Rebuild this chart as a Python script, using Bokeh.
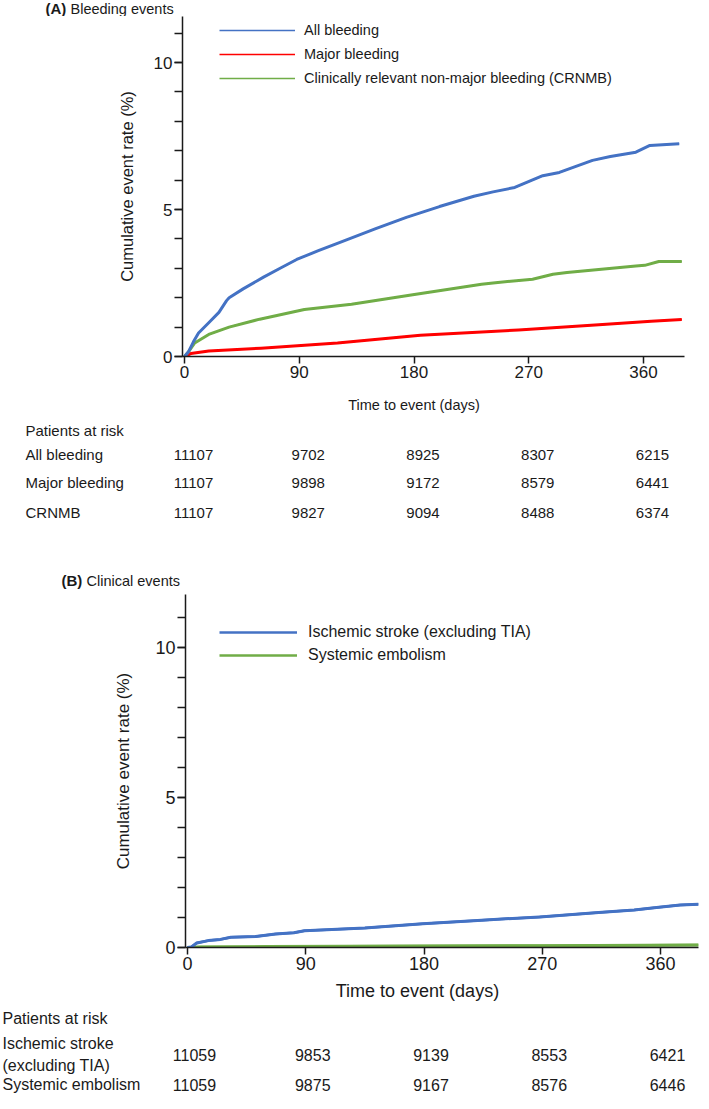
from bokeh.plotting import figure
from bokeh.models import (Range1d, FixedTicker, ColumnDataSource, Legend, LegendItem)
from bokeh.layouts import column
from bokeh.embed import file_html
from bokeh.resources import INLINE
from bokeh.core.properties import value

FONT = "Liberation Sans"
INK = "#1a1a1a"
BLUE = "#4472C4"
RED = "#FF0000"
GREEN = "#70AD47"

# ---------------- data: shared ----------------
tick_days = [0, 90, 180, 270, 360]
y_major = [0, 5, 10]
y_minor = list(range(0, 12))

# ---------------- data: panel A (bleeding) ----------------
a_title = ["(A)", "Bleeding events"]
a_series = ["All bleeding", "Major bleeding",
            "Clinically relevant non-major bleeding (CRNMB)"]
a_all_days = [0, 3, 7, 11, 19, 27, 33, 35, 46, 62, 75, 88, 105, 123, 150, 174,
              200, 227, 242, 259, 281, 294, 320, 334, 354, 365, 388]
a_all_rate = [0, 0.15, 0.5, 0.8, 1.15, 1.5, 1.9, 2.0, 2.3, 2.7, 3.0, 3.3, 3.6,
              3.9, 4.35, 4.73, 5.1, 5.45, 5.6, 5.75, 6.15, 6.26, 6.67, 6.8,
              6.95, 7.18, 7.24]
a_major_days = [0, 5, 19, 60, 120, 185, 262, 325, 366, 390]
a_major_rate = [0, 0.1, 0.19, 0.28, 0.46, 0.72, 0.9, 1.08, 1.2, 1.26]
a_crnmb_days = [0, 3, 8, 19, 35, 59, 94, 131, 179, 233, 242, 273, 289, 300,
                354, 361, 372, 390]
a_crnmb_rate = [0, 0.15, 0.46, 0.75, 1.0, 1.27, 1.6, 1.78, 2.1, 2.46, 2.5,
                2.63, 2.8, 2.86, 3.08, 3.1, 3.23, 3.23]
a_risk_rows = ["All bleeding", "Major bleeding", "CRNMB"]
a_risk_all = [11107, 9702, 8925, 8307, 6215]
a_risk_major = [11107, 9898, 9172, 8579, 6441]
a_risk_crnmb = [11107, 9827, 9094, 8488, 6374]

# ---------------- data: panel B (clinical) ----------------
b_title = ["(B)", "Clinical events"]
b_series = ["Ischemic stroke (excluding TIA)", "Systemic embolism"]
b_stroke_days = [0, 3, 7, 16, 25, 33, 52, 67, 81, 89, 135, 179, 224, 268, 313,
                 340, 357, 375, 389]
b_stroke_rate = [0, 0.02, 0.15, 0.23, 0.27, 0.34, 0.37, 0.45, 0.49, 0.56, 0.65,
                 0.79, 0.91, 1.02, 1.17, 1.25, 1.33, 1.42, 1.44]
b_se_days = [0, 10, 60, 180, 270, 389]
b_se_rate = [0, 0.02, 0.03, 0.05, 0.06, 0.08]
b_risk_rows = ["Ischemic stroke\n(excluding TIA)", "Systemic embolism"]
b_risk_stroke = [11059, 9853, 9139, 8553, 6421]
b_risk_se = [11059, 9875, 9167, 8576, 6446]

X_LABEL = "Time to event (days)"
Y_LABEL = "Cumulative event rate (%)"
RISK_HEAD = "Patients at risk"

W = 699            # every figure spans page x 8 .. 707
PAGE_L, PAGE_R = 8, 8 + W


def bare(height, x_range, y_range):
    f = figure(width=W, height=height, output_backend="svg", toolbar_location=None,
               title=None, x_range=x_range, y_range=y_range,
               x_axis_type=None, y_axis_type=None, frame_align=False,
               min_border=0, min_border_left=0, min_border_right=0,
               min_border_top=0, min_border_bottom=0)
    f.outline_line_color = None
    f.grid.visible = False
    return f


def header(top, bottom, words, xs, yc, sizes):
    """Panel caption: bold letter then plain caption (y values are page px)."""
    h = bare(bottom - top, Range1d(PAGE_L, PAGE_R), Range1d(bottom, top))
    h.text(x=[xs[0]], y=[yc], text=[words[0]], text_font=value(FONT),
           text_font_style="bold", text_font_size=value(sizes[0]),
           text_baseline="middle", text_align="left", text_color=INK)
    h.text(x=[xs[1]], y=[yc], text=[words[1]], text_font=value(FONT),
           text_font_size=value(sizes[1]),
           text_baseline="middle", text_align="left", text_color=INK)
    return h


def plot_panel(top, bottom, f_left, f_right, f_top, f_bottom, day0_px, px_per_day,
               px_per_unit, curves, leg_names, leg_renderer_idx, leg_lw, leg_loc,
               leg_gw, leg_standoff, leg_spacing, leg_size, tick_size, ylab_size,
               ylab_standoff):
    x0 = -(day0_px - f_left) / px_per_day
    x1 = (f_right - day0_px) / px_per_day
    y1 = (f_bottom - f_top) / px_per_unit
    p = figure(width=W, height=bottom - top, output_backend="svg",
               toolbar_location=None, title=None, frame_align=False,
               x_range=Range1d(x0, x1), y_range=Range1d(0, y1),
               min_border_left=f_left - PAGE_L, min_border_right=PAGE_R - f_right,
               min_border_top=f_top - top, min_border_bottom=bottom - f_bottom)
    p.outline_line_color = None
    p.grid.visible = False

    for ax in (p.xaxis[0], p.yaxis[0]):
        ax.axis_line_color = INK
        ax.axis_line_width = 1.5
        ax.major_tick_line_color = INK
        ax.major_tick_line_width = 1.5
        ax.minor_tick_line_color = INK
        ax.minor_tick_line_width = 1.5
        ax.major_label_text_font = FONT
        ax.major_label_text_font_size = tick_size
        ax.major_label_text_color = INK
        ax.major_label_standoff = 2
        ax.major_tick_in = 0

    p.xaxis.ticker = FixedTicker(ticks=tick_days)
    p.xaxis.major_tick_out = 7
    p.xaxis.minor_tick_line_color = None

    p.yaxis.ticker = FixedTicker(ticks=y_major, minor_ticks=y_minor)
    p.yaxis.major_tick_out = 8
    p.yaxis.minor_tick_out = 8
    p.yaxis.minor_tick_in = 0
    p.yaxis.axis_label = Y_LABEL
    p.yaxis.axis_label_text_font = FONT
    p.yaxis.axis_label_text_font_style = "normal"
    p.yaxis.axis_label_text_font_size = ylab_size
    p.yaxis.axis_label_text_color = INK
    p.yaxis.axis_label_standoff = ylab_standoff

    # thin strokes (hidden under the thick curves) that give the legend its key lines
    thin = []
    for days, rate, col in curves:
        thin.append(p.line(days, rate, line_color=col, line_width=leg_lw))
    for days, rate, col in curves:
        p.line(days, rate, line_color=col, line_width=3, line_join="round")

    items = [LegendItem(label=n, renderers=[thin[i]])
             for n, i in zip(leg_names, leg_renderer_idx)]
    leg = Legend(items=items, location=leg_loc, orientation="vertical",
                 glyph_width=leg_gw, glyph_height=20, label_height=20,
                 label_standoff=leg_standoff, spacing=leg_spacing, padding=0,
                 margin=0, border_line_color=None, background_fill_alpha=0,
                 label_text_font=FONT, label_text_font_size=leg_size,
                 label_text_color=INK)
    p.add_layout(leg)
    return p


def risk_table(top, bottom, day0_px, px_per_day, xlab_day, xlab_y, xlab_size,
               head_px, head_y, rows, row_ys, counts, num_off, tsize):
    """Table figure: x in days (same mapping as plot), y in page px."""
    x0 = (PAGE_L - day0_px) / px_per_day
    x1 = (PAGE_R - day0_px) / px_per_day
    t = bare(bottom - top, Range1d(x0, x1), Range1d(bottom, top))
    t.text(x=[xlab_day], y=[xlab_y], text=[X_LABEL], text_font=value(FONT),
           text_font_size=value(xlab_size), text_align="center",
           text_baseline="middle", text_color=INK)
    hx = (head_px - day0_px) / px_per_day
    hsrc = ColumnDataSource(dict(x=[hx] * (len(rows) + 1),
                                 y=[head_y] + list(row_ys),
                                 text=[RISK_HEAD] + list(rows)))
    t.text(x="x", y="y", text="text", source=hsrc, text_font=value(FONT),
           text_font_size=value(tsize), text_align="left",
           text_baseline="middle", text_line_height=1.3, text_color=INK)
    xs, ys, ts = [], [], []
    for ry, row_counts in zip(row_ys, counts):
        for d, n in zip(tick_days, row_counts):
            xs.append(d)
            ys.append(ry)
            ts.append(str(n))
    nsrc = ColumnDataSource(dict(x=xs, y=ys, text=ts))
    t.text(x="x", y="y", text="text", source=nsrc, x_offset=num_off,
           text_font=value(FONT), text_font_size=value(tsize),
           text_align="center", text_baseline="middle", text_color=INK)
    return t


# ---------------- panel A (page px) ----------------
A_L, A_R, A_T, A_B = 190, 692, 24, 364
A_DAY0 = 192
A_K = (651 - 192) / 360.0
hA = header(8, 24, a_title, [53, 78], 16, ["15px", "14.5px"])
pA = plot_panel(24, 404, A_L, A_R, A_T, A_B, A_DAY0, A_K, 29.4,
                [(a_major_days, a_major_rate, RED),
                 (a_crnmb_days, a_crnmb_rate, GREEN),
                 (a_all_days, a_all_rate, BLUE)],
                a_series, [2, 0, 1], 1.5,
                (227 - A_L, (A_B - A_T) - (38 - 10 - A_T) - (3 * 20 + 2 * 4)),
                76, 9, 4, "14.5px", "17px", "16.5px", 15)
tA = risk_table(404, 560, A_DAY0, A_K, 180, 412, "14.5px", 33, 438, a_risk_rows,
                [462, 490, 520], [a_risk_all, a_risk_major, a_risk_crnmb], 9, "15px")

# ---------------- panel B (page px) ----------------
B_L, B_R, B_T, B_B = 193, 706, 602, 955
B_DAY0 = 195
B_K = (668 - 195) / 360.0
hB = header(560, 602, b_title, [69, 94], 588, ["15px", "14.5px"])
pB = plot_panel(602, 987, B_L, B_R, B_T, B_B, B_DAY0, B_K, 30.0,
                [(b_se_days, b_se_rate, GREEN),
                 (b_stroke_days, b_stroke_rate, BLUE)],
                b_series, [1, 0], 2.5,
                (227 - B_L, (B_B - B_T) - (640 - 10 - B_T) - (2 * 20 + 3)),
                78, 11, 3, "16px", "18px", "17px", 19)
tB = risk_table(987, 1101, B_DAY0, B_K, 175, 998, "18px", 10, 1026, b_risk_rows,
                [1062, 1092], [b_risk_stroke, b_risk_se], 7, "16px")

layout = column(hA, pA, tA, hB, pB, tB, spacing=0)
open("out.html", "w").write(file_html(layout, INLINE))
